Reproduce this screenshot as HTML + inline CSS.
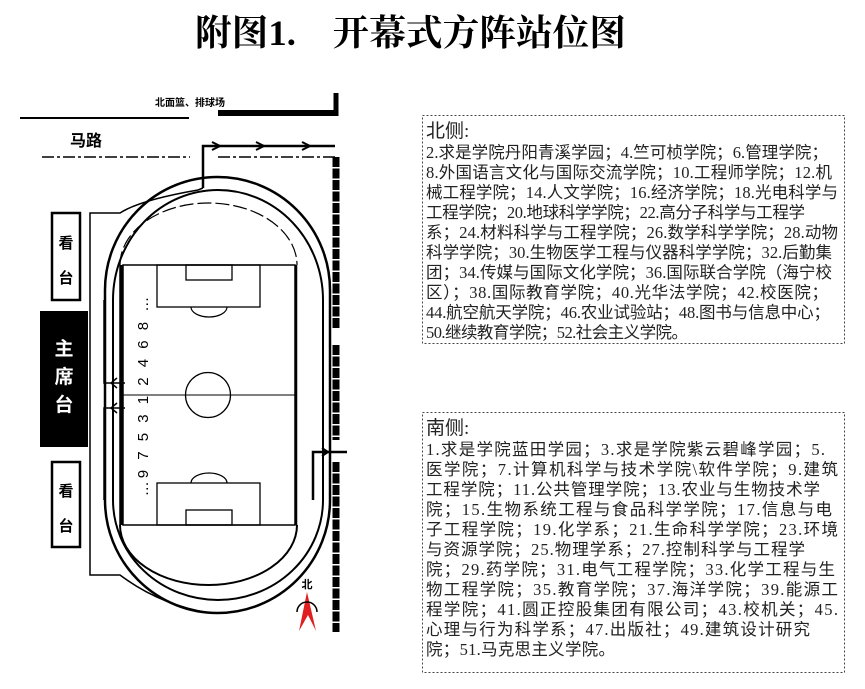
<!DOCTYPE html>
<html><head><meta charset="utf-8"><style>
html,body{margin:0;padding:0;background:#fff;}
svg{display:block;}
.t{font-family:"Liberation Serif","Noto Sans CJK SC",sans-serif;font-size:16.5px;fill:#222;}
</style></head><body>
<svg width="865" height="689" viewBox="0 0 865 689" xmlns="http://www.w3.org/2000/svg">
<text x="195" y="45" font-family="'Liberation Serif','Noto Serif CJK SC',serif" font-size="36" font-weight="bold" textLength="431" lengthAdjust="spacingAndGlyphs">附图1.　开幕式方阵站位图</text>

<text x="155" y="106" font-family="'Liberation Sans','Noto Sans CJK SC',sans-serif" font-size="10" font-weight="bold">北面篮、排球场</text>
<line x1="20" y1="118" x2="189" y2="118" stroke="#000" stroke-width="2"/>
<line x1="218" y1="113" x2="338" y2="113" stroke="#000" stroke-width="6"/>
<line x1="336" y1="93" x2="336" y2="116" stroke="#000" stroke-width="5"/>
<text x="70" y="146" font-family="'Liberation Sans','Noto Sans CJK SC',sans-serif" font-size="16" font-weight="bold">马路</text>
<line x1="42" y1="157" x2="190" y2="157" stroke="#000" stroke-width="1.5" stroke-dasharray="12,3,3,3"/>
<line x1="218" y1="157" x2="335" y2="157" stroke="#000" stroke-width="1.5" stroke-dasharray="12,3,3,3"/>
<path d="M203 188 L203 146 L335 146" fill="none" stroke="#000" stroke-width="2.5"/>
<path d="M212 142 L220 146 L212 150 M256 142 L264 146 L256 150 M302 142 L310 146 L302 150" fill="none" stroke="#000" stroke-width="2"/>
<g stroke="#000" stroke-width="7" stroke-dasharray="10,1.5">
<line x1="336" y1="157" x2="336" y2="328"/>
<line x1="336" y1="345" x2="336" y2="440"/>
<line x1="336" y1="462" x2="336" y2="632"/>
</g>
<path d="M313 500 L313 452 L347 452" fill="none" stroke="#000" stroke-width="2.5"/>
<path d="M322 448 L328 452 L322 456" fill="none" stroke="#000" stroke-width="2"/>

<path d="M105 290 A112.5 113 0 0 1 330 290 L330 500 A112.5 113 0 0 1 105 500 Z" fill="none" stroke="#000" stroke-width="2.5"/>
<path d="M113 300 A105 110 0 0 1 323 300 L323 500 A105 100 0 0 1 113 500 Z" fill="none" stroke="#000" stroke-width="2"/>
<path d="M120 265 A88.5 62 0 0 1 297 265" fill="none" stroke="#000" stroke-width="1.2" stroke-dasharray="14,4"/>
<path d="M297 525 A88.5 60 0 0 1 120 525" fill="none" stroke="#000" stroke-width="2"/>
<line x1="121" y1="265" x2="121" y2="525" stroke="#000" stroke-width="3.5"/>
<line x1="296" y1="265" x2="296" y2="525" stroke="#000" stroke-width="2.5"/>
<rect x="123" y="265" width="172" height="260" fill="#fff" stroke="#000" stroke-width="1.5"/>
<line x1="123" y1="395" x2="295" y2="395" stroke="#000" stroke-width="1"/>
<circle cx="208" cy="395" r="22.5" fill="none" stroke="#000" stroke-width="1.3"/>
<rect x="157" y="265" width="103" height="42" fill="none" stroke="#000" stroke-width="1.3"/>
<rect x="186" y="265" width="46" height="15" fill="none" stroke="#000" stroke-width="1.3"/>
<path d="M191 307 A18 10 0 0 0 227 307" fill="none" stroke="#000" stroke-width="1.2"/>
<rect x="157" y="483" width="103" height="42" fill="none" stroke="#000" stroke-width="1.3"/>
<rect x="186" y="510" width="46" height="15" fill="none" stroke="#000" stroke-width="1.3"/>
<path d="M191 483 A18 10 0 0 1 227 483" fill="none" stroke="#000" stroke-width="1.2"/>
<text transform="translate(148,395) rotate(-90)" text-anchor="middle" font-family="'Liberation Sans',sans-serif" font-size="15" letter-spacing="3">…9 7 5 3 1 2 4 6 8 …</text>

<path d="M104 300 L104 383 L125 383" fill="none" stroke="#000" stroke-width="1.5"/>
<path d="M117 378 L111 383 L117 388" fill="none" stroke="#000" stroke-width="1.5"/>
<path d="M104 500 L104 408 L125 408" fill="none" stroke="#000" stroke-width="1.5"/>
<path d="M117 403 L111 408 L117 413" fill="none" stroke="#000" stroke-width="1.5"/>
<path d="M203 188 L198 190 Q140 200 120 213 L90 213 L90 575 L120 575 Q160 605 210 613" fill="none" stroke="#000" stroke-width="1.5"/>

<rect x="52" y="213" width="28" height="87" fill="#fff" stroke="#000" stroke-width="2.5"/>
<text x="66" y="248" text-anchor="middle" font-family="'Noto Sans CJK SC',sans-serif" font-size="15" font-weight="bold">看</text>
<text x="66" y="283" text-anchor="middle" font-family="'Noto Sans CJK SC',sans-serif" font-size="15" font-weight="bold">台</text>
<rect x="40" y="311" width="48" height="136" fill="#000"/>
<text x="64" y="355" text-anchor="middle" fill="#fff" font-family="'Noto Sans CJK SC',sans-serif" font-size="19" font-weight="bold">主</text>
<text x="64" y="383" text-anchor="middle" fill="#fff" font-family="'Noto Sans CJK SC',sans-serif" font-size="19" font-weight="bold">席</text>
<text x="64" y="411" text-anchor="middle" fill="#fff" font-family="'Noto Sans CJK SC',sans-serif" font-size="19" font-weight="bold">台</text>
<rect x="52" y="462" width="28" height="85" fill="#fff" stroke="#000" stroke-width="2.5"/>
<text x="66" y="496" text-anchor="middle" font-family="'Noto Sans CJK SC',sans-serif" font-size="15" font-weight="bold">看</text>
<text x="66" y="531" text-anchor="middle" font-family="'Noto Sans CJK SC',sans-serif" font-size="15" font-weight="bold">台</text>

<text x="307" y="588" text-anchor="middle" font-family="'Noto Sans CJK SC',sans-serif" font-size="11" font-weight="bold">北</text>
<path d="M307 592 L316 631 L308 615 L299 631 Z" fill="#e02020"/>
<path d="M297 612 A10 10 0 0 1 317 612" fill="none" stroke="#000" stroke-width="1.5"/>

<rect x="422.5" y="115.5" width="422" height="228" fill="none" stroke="#444" stroke-width="1" stroke-dasharray="2,2"/>
<g class="t">
<text x="426" y="137" font-size="19">北侧:</text>
<text x="426" y="158" textLength="402">2.求是学院丹阳青溪学园；4.竺可桢学院；6.管理学院；</text>
<text x="426" y="178" textLength="406">8.外国语言文化与国际交流学院；10.工程师学院；12.机</text>
<text x="426" y="198" textLength="412">械工程学院；14.人文学院；16.经济学院；18.光电科学与</text>
<text x="426" y="218" textLength="379">工程学院；20.地球科学学院；22.高分子科学与工程学</text>
<text x="426" y="238" textLength="412">系；24.材料科学与工程学院；26.数学科学学院；28.动物</text>
<text x="426" y="258" textLength="406">科学学院；30.生物医学工程与仪器科学学院；32.后勤集</text>
<text x="426" y="278" textLength="406">团；34.传媒与国际文化学院；36.国际联合学院（海宁校</text>
<text x="426" y="298" textLength="402">区）；38.国际教育学院；40.光华法学院；42.校医院；</text>
<text x="426" y="318" textLength="404">44.航空航天学院；46.农业试验站；48.图书与信息中心；</text>
<text x="426" y="338" textLength="262">50.继续教育学院；52.社会主义学院。</text>
</g>
<rect x="422.5" y="412.5" width="422" height="260" fill="none" stroke="#444" stroke-width="1" stroke-dasharray="2,2"/>
<g class="t">
<text x="426" y="434" font-size="19">南侧:</text>
<text x="426" y="455" textLength="399">1.求是学院蓝田学园；3.求是学院紫云碧峰学园；5.</text>
<text x="426" y="475" textLength="412">医学院；7.计算机科学与技术学院\软件学院；9.建筑</text>
<text x="426" y="495" textLength="394">工程学院；11.公共管理学院；13.农业与生物技术学</text>
<text x="426" y="515" textLength="406">院；15.生物系统工程与食品科学学院；17.信息与电</text>
<text x="426" y="535" textLength="412">子工程学院；19.化学系；21.生命科学学院；23.环境</text>
<text x="426" y="555" textLength="379">与资源学院；25.物理学系；27.控制科学与工程学</text>
<text x="426" y="575" textLength="409">院；29.药学院；31.电气工程学院；33.化学工程与生</text>
<text x="426" y="595" textLength="412">物工程学院；35.教育学院；37.海洋学院；39.能源工</text>
<text x="426" y="615" textLength="412">程学院；41.圆正控股集团有限公司；43.校机关；45.</text>
<text x="426" y="635" textLength="384">心理与行为科学系；47.出版社；49.建筑设计研究</text>
<text x="426" y="655" textLength="189">院；51.马克思主义学院。</text>
</g>
</svg>
</body></html>
